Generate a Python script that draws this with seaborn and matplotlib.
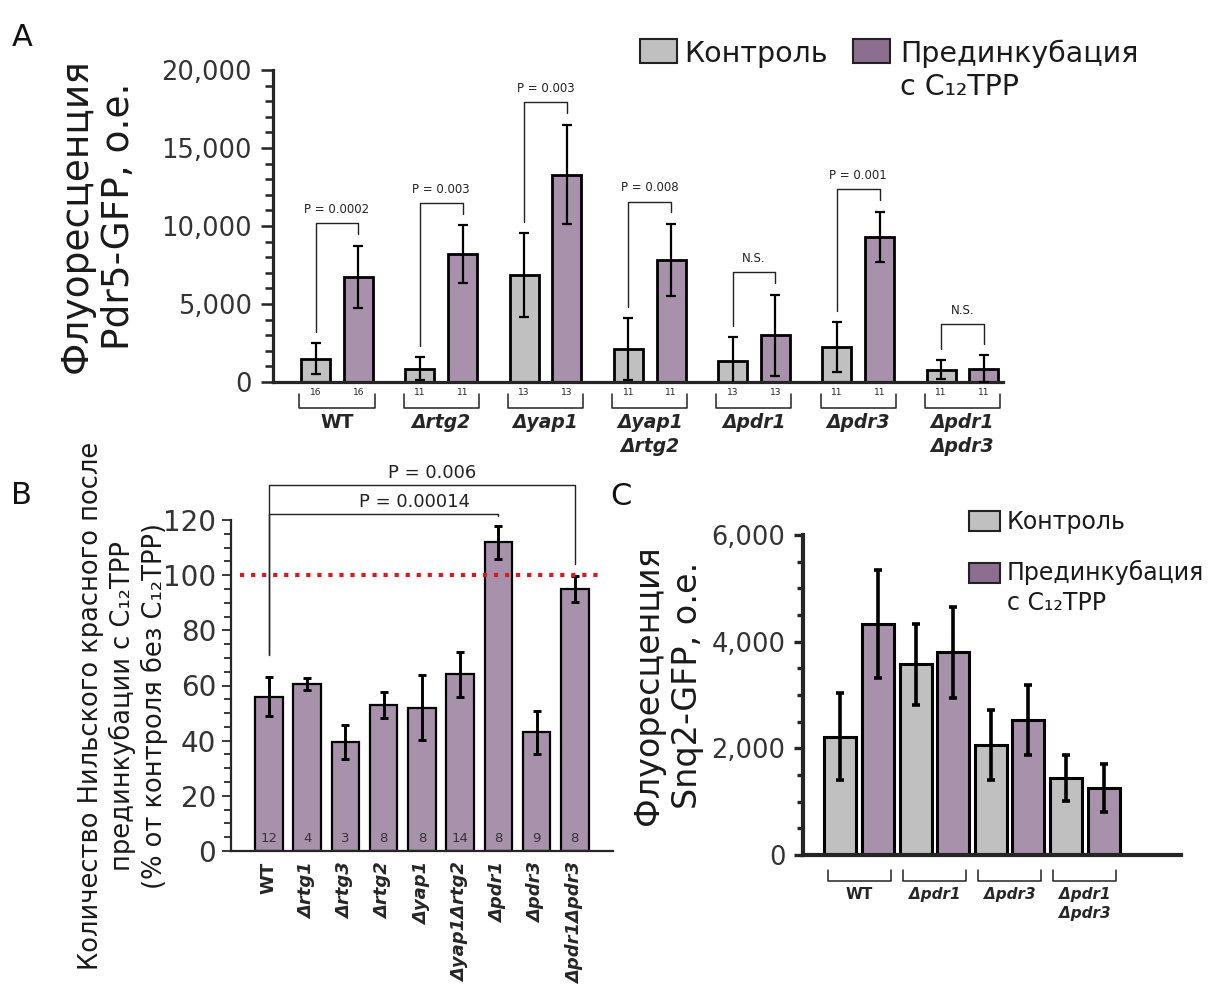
import numpy as np
import pandas as pd
import matplotlib
matplotlib.use('Agg')
import matplotlib.pyplot as plt
import seaborn as sns
from matplotlib.patches import Rectangle
from matplotlib.ticker import MultipleLocator, FuncFormatter

# =========================
# DADOS
# =========================
condicoes = ['Контроль', 'Прединкубация с C₁₂TPP']

# Painel A - Pdr5-GFP
cepas_a = ['WT', 'Δrtg2', 'Δyap1', 'Δyap1\nΔrtg2', 'Δpdr1', 'Δpdr3', 'Δpdr1\nΔpdr3']
controle_a = [1500, 850, 6850, 2100, 1350, 2250, 800]
controle_a_err = [1000, 750, 2700, 2000, 1550, 1580, 620]
trat_a = [6750, 8200, 13300, 7820, 3000, 9300, 850]
trat_a_err = [2000, 1850, 3200, 2300, 2600, 1600, 850]
n_a = [16, 11, 13, 11, 13, 11, 11]
p_a = ['P = 0.0002', 'P = 0.003', 'P = 0.003', 'P = 0.008', 'N.S.', 'P = 0.001', 'N.S.']

# Painel B - Nile red
cepas_b = ['WT', 'Δrtg1', 'Δrtg3', 'Δrtg2', 'Δyap1', 'Δyap1Δrtg2', 'Δpdr1', 'Δpdr3', 'Δpdr1Δpdr3']
valores_b = [56, 60.5, 39.5, 53, 52, 64, 112, 43, 95]
erros_b = [7, 2.2, 6, 4.7, 11.8, 8.3, 6, 7.8, 4.6]
n_b = [12, 4, 3, 8, 8, 14, 8, 9, 8]
pares_b = [(0, 6), (0, 8)]
p_b = ['P = 0.00014', 'P = 0.006']

# Painel C - Snq2-GFP
cepas_c = ['WT', 'Δpdr1', 'Δpdr3', 'Δpdr1\nΔpdr3']
controle_c = [2220, 3580, 2060, 1440]
controle_c_err = [820, 760, 650, 430]
trat_c = [4330, 3800, 2530, 1250]
trat_c_err = [1020, 850, 660, 450]

CINZA = '#c0c0c0'
ROXO = '#a892ab'
ROXO_LEG = '#8c6e8f'
TXT = '#333333'

sns.set_style('ticks')
plt.rcParams['font.family'] = ['DejaVu Sans']

W, H = 1211, 991
fig = plt.figure(figsize=(W / 100, H / 100), dpi=100)


def eixo_px(esq, dir, topo, base):
    return fig.add_axes([esq / W, 1 - base / H, (dir - esq) / W, (base - topo) / H])


def base_longa(cepas, controle, trat):
    return pd.DataFrame({
        'cepa': list(cepas) * 2,
        'condicao': [condicoes[0]] * len(cepas) + [condicoes[1]] * len(cepas),
        'valor': list(controle) + list(trat),
    })


def estilo_eixo(ax, lw, tam, tam_menor, pad, fonte):
    sns.despine(ax=ax)
    for lado in ['left', 'bottom']:
        ax.spines[lado].set_linewidth(lw)
    ax.tick_params(axis='y', which='major', length=tam, width=lw * 0.8,
                   pad=pad, labelsize=fonte, labelcolor=TXT)
    ax.tick_params(axis='y', which='minor', length=tam_menor, width=lw * 0.8)
    ax.tick_params(axis='x', length=0)
    ax.set_xlabel('')
    ax.set_ylabel('')


def centros(container):
    return [p.get_x() + p.get_width() / 2 for p in container]


virgula = FuncFormatter(lambda v, p: f'{int(v):,}')

# =========================
# PAINEL A
# =========================
axA = eixo_px(273, 1003, 70, 382)
dfA = base_longa(cepas_a, controle_a, trat_a)
sns.barplot(data=dfA, x='cepa', y='valor', hue='condicao', order=cepas_a,
            hue_order=condicoes, palette=[CINZA, ROXO], saturation=1,
            width=0.82, gap=0.32, errorbar=None, edgecolor='black',
            linewidth=2, legend=False, ax=axA)
contA = list(axA.containers)
for cont, val, err in zip(contA, [controle_a, trat_a], [controle_a_err, trat_a_err]):
    axA.errorbar(centros(cont), val, yerr=err, fmt='none', ecolor='black',
                 elinewidth=1.6, capsize=3.6, capthick=1.6, zorder=3)

axA.set_ylim(0, 20000)
axA.set_xlim(-0.614, 6.389)
axA.yaxis.set_major_locator(MultipleLocator(5000))
axA.yaxis.set_minor_locator(MultipleLocator(1000))
axA.yaxis.set_major_formatter(virgula)
axA.set_xticks([])
estilo_eixo(axA, 2.3, 8.4, 6, 7, 18.5)

# colchetes de significancia
xc, xt = centros(contA[0]), centros(contA[1])
for i, txt in enumerate(p_a):
    topo_c = controle_a[i] + controle_a_err[i]
    topo_t = trat_a[i] + trat_a_err[i]
    yl = topo_c + 700
    topo = max(topo_c, topo_t) + 1450
    topo = max(topo, yl + 1600)
    yr = topo_t + 750
    axA.plot([xc[i], xc[i], xt[i], xt[i]], [yl, topo, topo, yr],
             color='#222222', lw=1.0, clip_on=False)
    axA.text((xc[i] + xt[i]) / 2, topo + 450, txt, ha='center', va='bottom',
             fontsize=8.5, color='#222222')

# numeros, colchetes e nomes abaixo do eixo
hA = axA.bbox.height
trA = axA.get_xaxis_transform()
for cont, ns in zip(contA, [n_a, n_a]):
    for x, n in zip(centros(cont), ns):
        axA.text(x, -10.5 / hA, str(n), transform=trA, ha='center', va='center',
                 fontsize=6.5, color='#222222')
for i, nome in enumerate(cepas_a):
    axA.plot([i - 0.36, i - 0.36, i + 0.36, i + 0.36],
             [-12 / hA, -25.5 / hA, -25.5 / hA, -12 / hA],
             transform=trA, color='#222222', lw=1.1, clip_on=False)
    axA.text(i, -31 / hA, nome, transform=trA, ha='center', va='top',
             fontsize=13.5, fontweight='bold',
             fontstyle='normal' if nome == 'WT' else 'italic', linespacing=1.3)

# =========================
# PAINEL B
# =========================
axB = eixo_px(230.7, 613, 520, 851)
dfB = pd.DataFrame({'cepa': cepas_b, 'valor': valores_b})
sns.barplot(data=dfB, x='cepa', y='valor', order=cepas_b, color=ROXO,
            saturation=1, width=0.72, errorbar=None, edgecolor='black',
            linewidth=1.6, ax=axB)
xb = centros(axB.containers[0])
axB.errorbar(xb, valores_b, yerr=erros_b, fmt='none', ecolor='black',
             elinewidth=2.1, capsize=3, capthick=2.1, zorder=3)
axB.set_ylim(0, 120)
axB.set_xlim(-1, 9)
axB.yaxis.set_major_locator(MultipleLocator(20))
axB.yaxis.set_minor_locator(MultipleLocator(5))
estilo_eixo(axB, 1.6, 6.5, 5, 4, 20)
axB.set_xticks(range(len(cepas_b)))
axB.set_xticklabels(cepas_b, rotation=90, fontsize=13, fontweight='bold',
                    fontstyle='italic')
axB.get_xticklabels()[0].set_fontstyle('normal')
axB.tick_params(axis='x', pad=8)

axB.hlines(100, -0.75, 8.7, colors='#e3141c', linestyles=':', lw=3, zorder=4)

for x, n in zip(xb, n_b):
    axB.text(x, 4.5, str(n), ha='center', va='center', fontsize=9.5, color=TXT)

desloc_txt = [0.8, 0.27]
topo_ant = 0
for k, ((i, j), txt) in enumerate(zip(pares_b, p_b)):
    yl = valores_b[i] + erros_b[i] + 8
    topo = max(v + e for v, e in zip(valores_b[i:j + 1], erros_b[i:j + 1])) + 4
    topo = max(topo, topo_ant + 10.6)
    yr = min(topo - 0.7, valores_b[j] + erros_b[j] + 4.5)
    axB.plot([xb[i], xb[i], xb[j], xb[j]], [yl, topo, topo, yr],
             color='#222222', lw=1.0, clip_on=False)
    axB.text((xb[i] + xb[j]) / 2 + desloc_txt[k], topo + 1.2, txt, ha='center',
             va='bottom', fontsize=13, color='#222222', clip_on=False)
    topo_ant = topo

# =========================
# PAINEL C
# =========================
axC = eixo_px(802.5, 1180.6, 535, 855)
dfC = base_longa(cepas_c, controle_c, trat_c)
sns.barplot(data=dfC, x='cepa', y='valor', hue='condicao', order=cepas_c,
            hue_order=condicoes, palette=[CINZA, ROXO], saturation=1,
            width=1.0, gap=0.15, errorbar=None, edgecolor='black',
            linewidth=2.2, legend=False, ax=axC)
contC = list(axC.containers)
for cont, val, err in zip(contC, [controle_c, trat_c], [controle_c_err, trat_c_err]):
    axC.errorbar(centros(cont), val, yerr=err, fmt='none', ecolor='black',
                 elinewidth=2.6, capsize=3.1, capthick=2.6, zorder=3)
axC.set_ylim(0, 6000)
axC.set_xlim(-0.753, 4.274)
axC.yaxis.set_major_locator(MultipleLocator(2000))
axC.yaxis.set_minor_locator(MultipleLocator(500))
axC.yaxis.set_major_formatter(virgula)
axC.set_xticks([])
estilo_eixo(axC, 3, 6.3, 4.2, 6, 18.5)

hC = axC.bbox.height
trC = axC.get_xaxis_transform()
for i, nome in enumerate(cepas_c):
    axC.plot([i - 0.42, i - 0.42, i + 0.42, i + 0.42],
             [-15 / hC, -26 / hC, -26 / hC, -15 / hC],
             transform=trC, color='#222222', lw=1.1, clip_on=False)
    axC.text(i, -32 / hC, nome, transform=trC, ha='center', va='top',
             fontsize=11, fontweight='bold',
             fontstyle='normal' if nome == 'WT' else 'italic', linespacing=1.3)

# =========================
# ROTULOS, LETRAS E LEGENDAS (camada por cima, em pixels)
# =========================
ax0 = fig.add_axes([0, 0, 1, 1])
ax0.set_xlim(0, W)
ax0.set_ylim(H, 0)
ax0.axis('off')
ax0.set_zorder(10)

ax0.text(98, 216, 'Флуоресценция\nPdr5-GFP, о.е.', rotation=90, ha='center',
         va='center', fontsize=27, color='#1a1a1a')
ax0.text(123, 706, 'Количество Нильского красного после\nпрединкубации с C₁₂TPP\n'
         '(% от контроля без C₁₂TPP)', rotation=90, ha='center', va='center',
         fontsize=18.5, color='#1a1a1a')
ax0.text(668, 685, 'Флуоресценция\nSnq2-GFP, о.е.', rotation=90, ha='center',
         va='center', fontsize=24, color='#1a1a1a')

for letra, x, y in [('A', 12, 46), ('B', 11, 504), ('C', 610, 505)]:
    ax0.text(x, y, letra, fontsize=22, va='baseline', color='#111111')


def legenda(x_cx, x_txt, linhas, larg, alt, fonte):
    # linhas: (cor, y_topo_caixa, baseline, texto, baseline_2)
    for cor, y_cx, base, txt, base2 in linhas:
        ax0.add_patch(Rectangle((x_cx, y_cx), larg, alt, facecolor=cor,
                                edgecolor='#222222', lw=1.5))
        ax0.text(x_txt, base, txt, fontsize=fonte, va='baseline', color='#1a1a1a')
        if base2 is not None:
            ax0.text(x_txt, base2, 'с C₁₂TPP', fontsize=fonte, va='baseline',
                     color='#1a1a1a')


# legenda A (duas colunas)
legenda(639.6, 684.3, [(CINZA, 39.3, 61.7, condicoes[0], None)], 37.5, 23.4, 20.5)
legenda(852.9, 900.4, [(ROXO_LEG, 39.3, 61.7, 'Прединкубация', 95)], 37.5, 23.4, 20.5)
# legenda C
legenda(969, 1006.8, [(CINZA, 511, 529, condicoes[0], None),
                      (ROXO_LEG, 563, 580, 'Прединкубация', 610)], 31, 20, 17)

fig.savefig('out.png', dpi=100)
